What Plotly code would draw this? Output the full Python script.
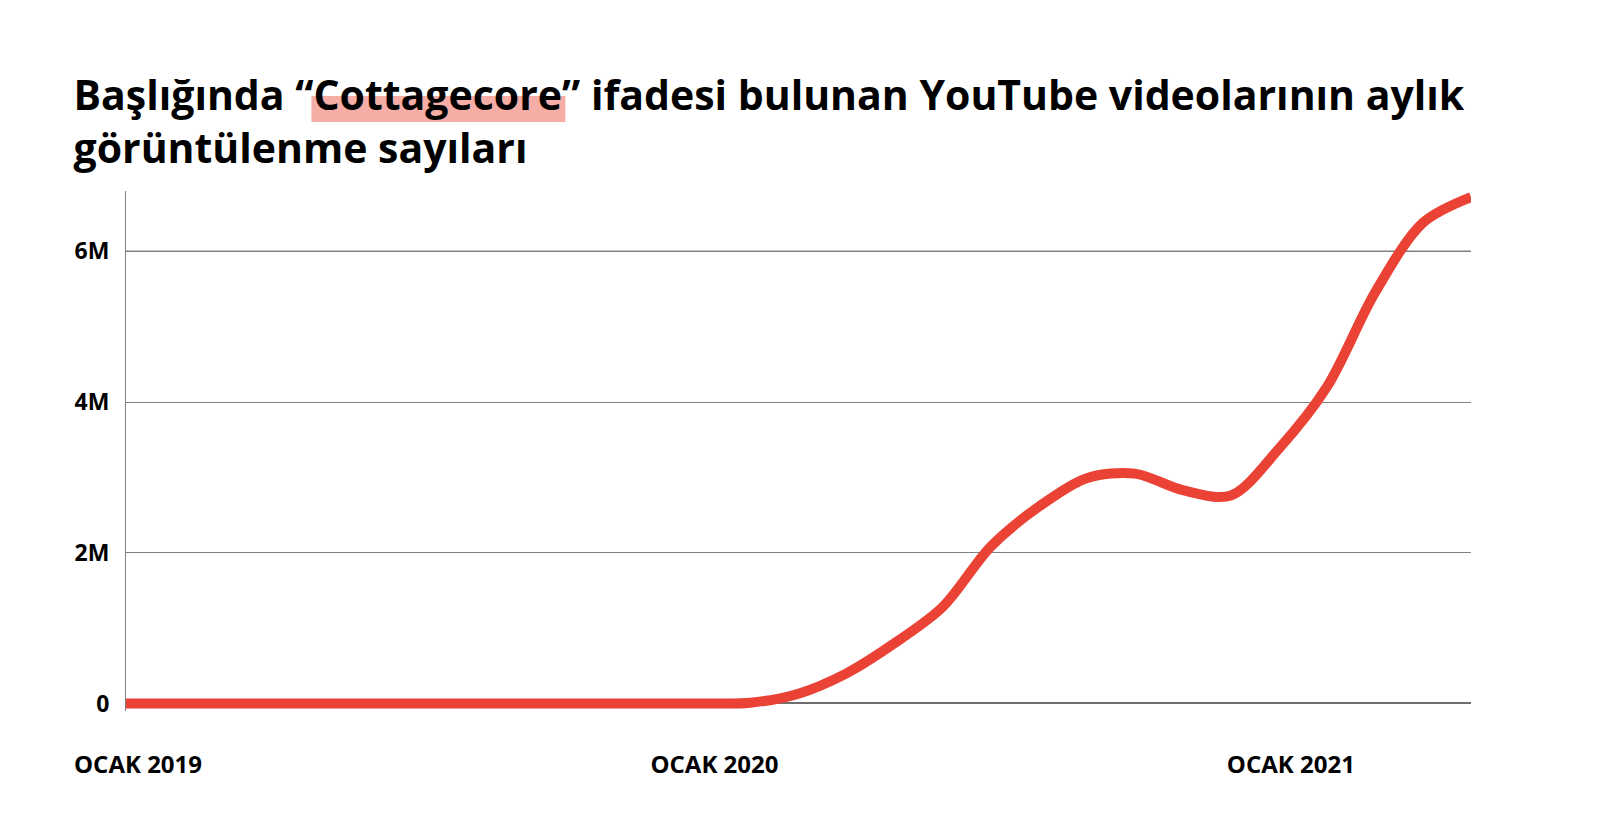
import plotly.graph_objects as go

# Monthly views, Jan 2019 .. May 2021 (month index 0..28)
month_index = list(range(29))
views = [0, 0, 0, 0, 0, 0, 0, 0, 0, 0, 0, 0,          # 2019
         0, 0.01e6, 0.13e6, 0.40e6, 0.80e6, 1.28e6, 2.08e6, 2.61e6,
         2.99e6, 3.05e6, 2.83e6, 2.76e6,                # 2020
         3.38e6, 4.20e6, 5.45e6, 6.38e6, 6.72e6]        # 2021
x_tick_vals = [0, 12, 24]
x_tick_text = ["OCAK 2019", "OCAK 2020", "OCAK 2021"]
y_tick_vals = [0, 2e6, 4e6, 6e6]
y_tick_text = ["0", "2M", "4M", "6M"]
title_text = ("Başlığında “Cottagecore” ifadesi bulunan YouTube videolarının aylık"
              "<br>görüntülenme sayıları")

FONT = "Open Sans"
RED = "#EA4335"
OFF = 8  # page body margin

W, H = 1600 - OFF, 835 - OFF
L, R, T, B = 125.5 - OFF, 129, 191 - OFF, 124
pw, ph = W - L - R, H - T - B

def px_to_paper(xp, yp):
    # xp, yp in page pixels
    xp -= OFF
    yp -= OFF
    return (xp - L) / pw, (H - B - yp) / ph

fig = go.Figure()
fig.add_trace(go.Scatter(
    x=month_index, y=views, mode="lines",
    line=dict(color=RED, width=10, shape="spline", smoothing=0.9),
    hoverinfo="skip", showlegend=False,
))

# pink highlight under "Cottagecore"
x0, y0 = px_to_paper(311, 122)
x1, y1 = px_to_paper(565, 96)
fig.add_shape(type="rect", xref="paper", yref="paper", x0=x0, x1=x1, y0=y0, y1=y1,
              fillcolor="#F5ADA5", line_width=0, layer="below")
# darker top gridline
fig.add_shape(type="line", xref="paper", yref="y", x0=0, x1=1,
              y0=max(y_tick_vals), y1=max(y_tick_vals),
              line=dict(color="#000000", width=1.2), layer="between")

fig.update_layout(
    width=W, height=H,
    margin=dict(l=L, r=R, t=T, b=B, pad=0),
    paper_bgcolor="white", plot_bgcolor="white",
    font=dict(family=FONT, color="#000000"),
    title=dict(text=title_text, xref="container", yref="container",
               x=65.5 / W, xanchor="left", y=1 - 101.5 / H, yanchor="top",
               font=dict(family=FONT, size=41, color="#000000", weight="bold")),
    xaxis=dict(range=[0, 28], tickvals=x_tick_vals, ticktext=x_tick_text,
               showgrid=False, zeroline=False, showline=False, ticks="",
               ticklabelshift=12, ticklabelstandoff=37,
               tickfont=dict(family=FONT, size=24, color="#000000", weight="bold")),
    yaxis=dict(range=[-0.1e6, 6.8e6], tickvals=y_tick_vals, ticktext=y_tick_text,
               showgrid=True, gridcolor="#808080", gridwidth=1,
               zeroline=True, zerolinecolor="#6e6e6e", zerolinewidth=2,
               showline=True, linecolor="#808080", linewidth=1,
               ticks="", ticklabelstandoff=11,
               tickfont=dict(family=FONT, size=23, color="#000000", weight="bold")),
)

fig.write_html("out.html")
